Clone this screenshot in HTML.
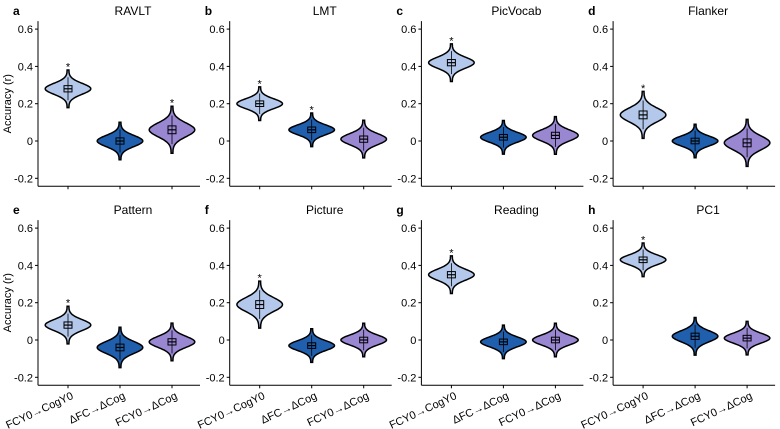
<!DOCTYPE html>
<html><head><meta charset="utf-8">
<style>
body{margin:0;background:#fff;}
svg{display:block;font-family:"Liberation Sans",Arial,sans-serif;}
</style></head>
<body>
<svg id="chart" width="780" height="429" viewBox="0 0 780 429"></svg>
<script>
const panelTitles = ["RAVLT","LMT","PicVocab","Flanker","Pattern","Picture","Reading","PC1"];
const panelLetters = ["a","b","c","d","e","f","g","h"];
const categories = ["FCY0\u2192CogY0","\u0394FC\u2192\u0394Cog","FCY0\u2192\u0394Cog"];
const yTicks = [-0.2,0,0.2,0.4,0.6];
const yTickLabels = ["-0.2","0","0.2","0.4","0.6"];
const medianValues = [
  [0.28,0.00,0.06],[0.20,0.06,0.01],[0.42,0.02,0.03],[0.14,0.00,-0.01],
  [0.08,-0.04,-0.01],[0.19,-0.03,0.00],[0.35,-0.01,0.00],[0.43,0.02,0.01]
];
const spreadValues = [
  [0.028,0.028,0.035],[0.025,0.025,0.028],[0.028,0.025,0.028],[0.035,0.025,0.035],
  [0.028,0.03,0.028],[0.035,0.025,0.025],[0.028,0.025,0.025],[0.025,0.028,0.025]
];
const significant = [
  [1,0,1],[1,1,0],[1,0,0],[1,0,0],[1,0,0],[1,0,0],[1,0,0],[1,0,0]
];
const colors = ["#b3c8ea","#1f5fae","#9a87d2"];
const NS="http://www.w3.org/2000/svg";
const svg=document.getElementById('chart');
function mk(tag,attrs,parent){const e=document.createElementNS(NS,tag);for(const k in attrs)e.setAttribute(k,attrs[k]);(parent||svg).appendChild(e);return e;}
const panelW=191.7, rowH=199, axX0=38, zeroY0=141, pxPer=186.5;
for(let p=0;p<8;p++){
  const col=p%4,row=Math.floor(p/4);
  const ax=axX0+col*panelW, zy=zeroY0+row*rowH;
  const y=v=>zy-v*pxPer;
  const xs=i=>ax+30+i*52;
  const g=mk('g',{});
  
  
  const lt=mk('text',{x:ax-25,y:zy-126,'font-size':12,'font-weight':'bold'},g);lt.textContent=panelLetters[p];
  
  const tt=mk('text',{x:ax+95,y:zy-126,'font-size':12,'text-anchor':'middle'},g);tt.textContent=panelTitles[p];
  
  const yTop=y(0.6)-8, yBot=y(-0.2)+8;
  const yax=mk('line',{x1:ax,y1:yTop,x2:ax,y2:yBot,stroke:'#000','stroke-width':1},g);
  
  const xax=mk('line',{x1:ax,y1:yBot,x2:ax+162,y2:yBot,stroke:'#000','stroke-width':1},g);
  
  yTicks.forEach((t,i)=>{
    mk('line',{x1:ax-3,y1:y(t),x2:ax,y2:y(t),stroke:'#000'},g);
    const tl=mk('text',{x:ax-5,y:y(t)+4,'font-size':11,'text-anchor':'end'},g);tl.textContent=yTickLabels[i];
    
  });
  if(col===0){
    const yl=mk('text',{x:0,y:0,'font-size':11,'text-anchor':'middle',transform:`translate(${ax-27},${y(0.2)}) rotate(-90)`},g);
    yl.textContent='Accuracy (r)';
    
  }
  categories.forEach((c,i)=>{
    const cx=xs(i);
    mk('line',{x1:cx,y1:yBot,x2:cx,y2:yBot+3,stroke:'#000'},g);
    if(row===1){
      const xl=mk('text',{x:0,y:0,'font-size':11,'text-anchor':'end',transform:`translate(${cx+6},${yBot+13}) rotate(-25)`},g);
      xl.textContent=c;
      
    }
    const m=medianValues[p][i], s=spreadValues[p][i];
    let left=[],right=[];
    const N=50;
    for(let k=0;k<=N;k++){
      const t=-3.6+7.2*k/N;
      const w=22*Math.exp(-t*t/2.2)+0.8;
      const vy=y(m+t*s);
      right.push([cx+w,vy]);left.push([cx-w,vy]);
    }
    let d='M'+right.map(q=>q[0].toFixed(1)+','+q[1].toFixed(1)).join('L')+'L'+left.reverse().map(q=>q[0].toFixed(1)+','+q[1].toFixed(1)).join('L')+'Z';
    const v=mk('path',{d:d,fill:colors[i],stroke:'#000','stroke-width':1.5},g);
    
    mk('line',{x1:cx,y1:y(m+2.2*s),x2:cx,y2:y(m-2.2*s),stroke:'#000','stroke-width':0.8},g);
    const b=mk('rect',{x:cx-4,y:y(m+0.6*s),width:8,height:y(m-0.6*s)-y(m+0.6*s),fill:'none',stroke:'#000','stroke-width':1},g);
    
    mk('line',{x1:cx-4,y1:y(m),x2:cx+4,y2:y(m),stroke:'#000','stroke-width':1.2},g);
    if(significant[p][i]){
      const st=mk('text',{x:cx,y:y(m+3.6*s+0.03)+6,'font-size':11,'text-anchor':'middle'},g);st.textContent='*';
      
    }
  });
}
</script>
</body></html>
